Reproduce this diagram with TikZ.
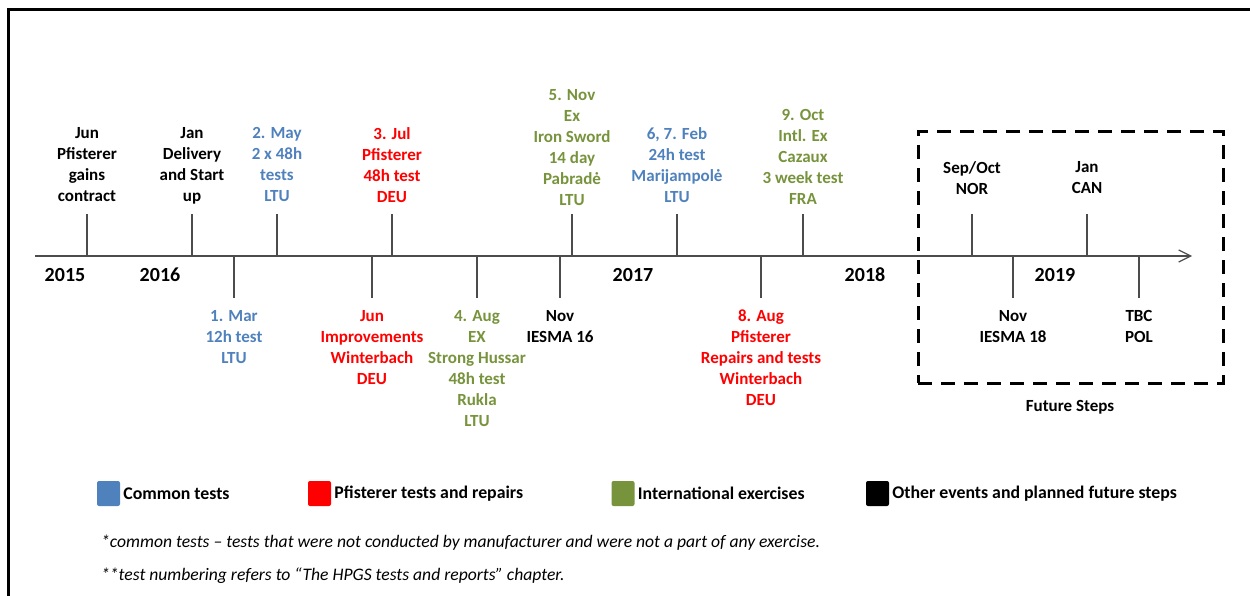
\documentclass[tikz,border=0pt]{standalone}
\usepackage{fontspec}
\setmainfont{Carlito}
\usetikzlibrary{arrows.meta}
\definecolor{ctblue}{RGB}{79,129,189}
\definecolor{ptred}{RGB}{255,0,0}
\definecolor{exgreen}{RGB}{119,147,60}

\begin{document}
\begin{tikzpicture}[x=1pt,y=-1pt,
  lbl/.style={font=\bfseries\fontsize{17}{21}\selectfont, align=center, inner sep=0pt, anchor=north},
  tick/.style={draw=black!70, line width=1.2pt},
  yr/.style={font=\bfseries\fontsize{20}{24}\selectfont, inner sep=0pt},
  key/.style={minimum width=23pt, minimum height=25pt, inner sep=0pt, rounded corners=2pt},
  keytxt/.style={font=\bfseries\fontsize{17.8}{20}\selectfont, anchor=west, inner sep=0pt},
  note/.style={font=\itshape\fontsize{17.6}{20}\selectfont, anchor=west, inner sep=0pt}]
\useasboundingbox (0,0) rectangle (1250,596);
% frame
\draw[line width=3pt] (8,596) -- (8,10) -- (1250,10);

% time axis
\coordinate (ax0) at (35,256);
\coordinate (ax1) at (1192,256);
\draw[tick, -{Straight Barb[length=12pt,width=12pt]}] (ax0) -- (ax1);

\node[yr] (y2015) at (65,275) {2015};
\node[yr] (y2016) at (160,275) {2016};
\node[yr] (y2017) at (633,275) {2017};
\node[yr] (y2018) at (865,275) {2018};
\node[yr] (y2019) at (1055,275) {2019};

% events above the axis
\node[lbl] (jun15) at (87,127) {Jun\\Pfisterer\\gains\\contract};
\node[lbl] (jan16) at (192,127) {Jan\\Delivery\\and Start\\up};
\node[lbl, ctblue] (may16) at (277,127) {2. May\\2 x 48h\\tests\\LTU};
\node[lbl, ptred] (jul16) at (392,127) {3. Jul\\Pfisterer\\48h test\\DEU};
\node[lbl, exgreen] (nov16x) at (572,89) {5. Nov\\Ex\\Iron Sword\\14 day\\Pabradė\\LTU};
\node[lbl, ctblue] (feb17) at (677,127) {6, 7. Feb\\24h test\\Marijampolė\\LTU};
\node[lbl, exgreen] (oct17) at (803,109) {9. Oct\\Intl. Ex\\Cazaux\\3 week test\\FRA};
\node[lbl] (sep18) at (972,161) {Sep/Oct\\NOR};
\node[lbl] (jan19) at (1087,161) {Jan\\CAN};

\draw[tick] (ax0 -| jun15) -- ++(0,-42);
\draw[tick] (ax0 -| jan16) -- ++(0,-42);
\draw[tick] (ax0 -| may16) -- ++(0,-42);
\draw[tick] (ax0 -| jul16) -- ++(0,-42);
\draw[tick] (ax0 -| nov16x) -- ++(0,-42);
\draw[tick] (ax0 -| feb17) -- ++(0,-42);
\draw[tick] (ax0 -| oct17) -- ++(0,-42);
\draw[tick] (ax0 -| sep18) -- ++(0,-42);
\draw[tick] (ax0 -| jan19) -- ++(0,-42);

% events below the axis
\node[lbl, ctblue] (mar16) at (234,310) {1. Mar\\12h test\\LTU};
\node[lbl, ptred] (jun16) at (372,310) {Jun\\Improvements\\Winterbach\\DEU};
\node[lbl, exgreen] (aug16) at (477,310) {4. Aug\\EX\\Strong Hussar\\48h test\\Rukla\\LTU};
\node[lbl] (nov16) at (560,310) {Nov\\IESMA 16};
\node[lbl, ptred] (aug17) at (761,310) {8. Aug\\Pfisterer\\Repairs and tests\\Winterbach\\DEU};
\node[lbl] (nov18) at (1013,310) {Nov\\IESMA 18};
\node[lbl] (tbc) at (1139,310) {TBC\\POL};

\draw[tick] (ax0 -| mar16) -- ++(0,42);
\draw[tick] (ax0 -| jun16) -- ++(0,42);
\draw[tick] (ax0 -| aug16) -- ++(0,42);
\draw[tick] (ax0 -| nov16) -- ++(0,42);
\draw[tick] (ax0 -| aug17) -- ++(0,42);
\draw[tick] (ax0 -| nov18) -- ++(0,42);
\draw[tick] (ax0 -| tbc) -- ++(0,42);

% future steps
\node[draw, line width=3pt, dash pattern=on 14pt off 9pt, minimum width=305pt, minimum height=251pt, inner sep=0pt] (future) at (1070.5,257.5) {};
\node[lbl, anchor=center] (futlbl) at (1070,407) {Future Steps};

% legend
\node[key, fill=ctblue] (k1) at (108.5,493.5) {};
\node[keytxt] (k1t) at ([xshift=3pt]k1.east) {Common tests};
\node[key, fill=ptred] (k2) at (319.5,493.5) {};
\node[keytxt] (k2t) at ([xshift=3pt]k2.east) {Pfisterer tests and repairs};
\node[key, fill=exgreen] (k3) at (623,493.5) {};
\node[keytxt] (k3t) at ([xshift=3pt]k3.east) {International exercises};
\node[key, fill=black] (k4) at (877.5,493.5) {};
\node[keytxt] (k4t) at ([xshift=3pt]k4.east) {Other events and planned future steps};

\node[note] (n1) at (101,543) {*common tests -- tests that were not conducted by manufacturer and were not a part of any exercise.};
\node[note] (n2) at (101,576) {**test numbering refers to “The HPGS tests and reports” chapter.};
\end{tikzpicture}
\end{document}
